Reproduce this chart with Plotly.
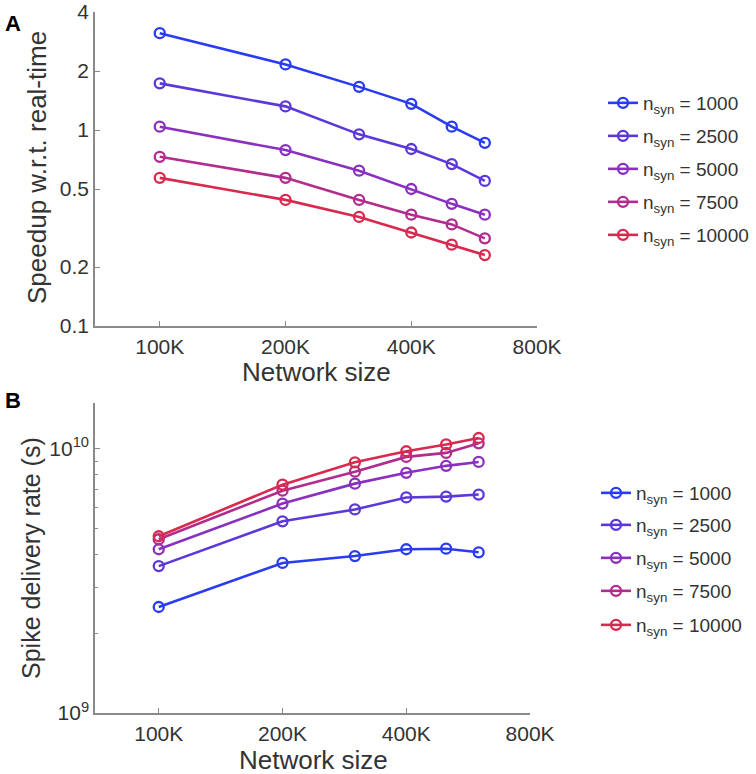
import plotly.graph_objects as go

network_size = [100000, 200000, 300000, 400000, 500000, 600000]
n_syn = [1000, 2500, 5000, 7500, 10000]
colors = ["#2a3cf2", "#5c38da", "#8a30c0", "#b22c8e", "#d82a4e"]

speedup = {
    1000: [3.12, 2.16, 1.66, 1.36, 1.04, 0.86],
    2500: [1.73, 1.32, 0.95, 0.80, 0.67, 0.55],
    5000: [1.04, 0.79, 0.62, 0.50, 0.42, 0.37],
    7500: [0.73, 0.57, 0.44, 0.37, 0.33, 0.28],
    10000: [0.57, 0.44, 0.36, 0.30, 0.26, 0.23],
}
delivery = {
    1000: [2.52e9, 3.70e9, 3.93e9, 4.17e9, 4.19e9, 4.06e9],
    2500: [3.60e9, 5.32e9, 5.90e9, 6.55e9, 6.60e9, 6.72e9],
    5000: [4.17e9, 6.21e9, 7.39e9, 8.12e9, 8.63e9, 8.93e9],
    7500: [4.55e9, 6.95e9, 8.20e9, 9.33e9, 9.66e9, 1.05e10],
    10000: [4.67e9, 7.32e9, 8.90e9, 9.80e9, 1.04e10, 1.10e10],
}

x_tickvals = [100000, 200000, 400000, 800000]
x_ticktext = ["100K", "200K", "400K", "800K"]
top_y_tickvals = [0.1, 0.2, 0.5, 1, 2, 4]
top_y_ticktext = ["0.1", "0.2", "0.5", "1", "2", "4"]
bot_y_tickvals = [1e9, 1e10]
bot_y_ticktext = ["10<sup>9</sup>", "10<sup>10</sup>"]
bot_minor = [2e9, 3e9, 4e9, 5e9, 6e9, 7e9, 8e9, 9e9]

FONT = "Liberation Sans, Arial, sans-serif"
TXT = "#333333"
AX = "#8a8a8a"
W, H = 756, 774


def px_x(p):
    return p / W


def px_y(p):
    return 1 - p / H


# legend row positions (pixels in the page)
top_rows = [103, 136, 169, 202, 235]
bot_rows = [493, 525, 558, 591, 625]

fig = go.Figure()
legend_layout = {}
for i, (n, c) in enumerate(zip(n_syn, colors)):
    lg = "legend" if i == 0 else f"legend{i + 1}"
    fig.add_trace(go.Scatter(
        x=network_size, y=speedup[n], mode="lines+markers",
        name=f"n<sub>syn</sub> = {n}", showlegend=True,
        line=dict(color=c, width=2.6),
        marker=dict(symbol="circle-open", size=10, color=c, line=dict(width=2.3, color=c)),
        xaxis="x", yaxis="y", legend=lg,
    ))
    legend_layout[lg] = dict(x=px_x(603), y=px_y(top_rows[i]), xanchor="left", yanchor="middle",
                             font=dict(family=FONT, size=19, color=TXT),
                             bgcolor="rgba(0,0,0,0)", borderwidth=0, visible=True)
for i, (n, c) in enumerate(zip(n_syn, colors)):
    lg = f"legend{i + 6}"
    fig.add_trace(go.Scatter(
        x=network_size, y=delivery[n], mode="lines+markers",
        name=f"n<sub>syn</sub> = {n}", showlegend=True,
        line=dict(color=c, width=2.6),
        marker=dict(symbol="circle-open", size=10, color=c, line=dict(width=2.3, color=c)),
        xaxis="x2", yaxis="y2", legend=lg,
    ))
    legend_layout[lg] = dict(x=px_x(596), y=px_y(bot_rows[i]), xanchor="left", yanchor="middle",
                             font=dict(family=FONT, size=19, color=TXT),
                             bgcolor="rgba(0,0,0,0)", borderwidth=0, visible=True)

axis_common = dict(
    type="log", showgrid=False, zeroline=False, showline=True, automargin=False,
    linecolor=AX, linewidth=1.5, ticks="inside", ticklen=5,
    tickcolor=AX, tickwidth=1, tickfont=dict(family=FONT, size=21, color=TXT),
    ticklabeloverflow="allow",
)

fig.update_layout(
    width=W, height=H, showlegend=True,
    margin=dict(l=0, r=0, t=0, b=0, autoexpand=False),
    paper_bgcolor="white", plot_bgcolor="white",
    font=dict(family=FONT, color=TXT),
    xaxis=dict(**axis_common, domain=[px_x(95), px_x(537)], anchor="y",
               range=[4.845, 5.903], tickvals=x_tickvals, ticktext=x_ticktext,
               ticklabelstandoff=1),
    yaxis=dict(**axis_common, domain=[px_y(326), px_y(12)], anchor="x",
               range=[-1, 0.6021], tickvals=top_y_tickvals, ticktext=top_y_ticktext,
               ticklabelstandoff=0),
    xaxis2=dict(**axis_common, domain=[px_x(95), px_x(530)], anchor="y2",
                range=[4.845, 5.903], tickvals=x_tickvals, ticktext=x_ticktext,
                ticklabelstandoff=1),
    yaxis2=dict(**axis_common, domain=[px_y(713), px_y(403)], anchor="x2",
                range=[9, 10.174], tickvals=bot_y_tickvals, ticktext=bot_y_ticktext,
                ticklabelstandoff=0,
                minor=dict(tickmode="array", tickvals=bot_minor, ticks="inside", ticklen=3, tickcolor=AX)),
    annotations=[
        dict(text="<b>A</b>", x=px_x(3), y=px_y(9), xref="paper", yref="paper",
             xanchor="left", yanchor="top", showarrow=False, font=dict(family=FONT, size=22, color="black")),
        dict(text="<b>B</b>", x=px_x(3), y=px_y(386), xref="paper", yref="paper",
             xanchor="left", yanchor="top", showarrow=False, font=dict(family=FONT, size=22, color="black")),
        dict(text="Speedup w.r.t. real-time", x=px_x(37), y=px_y(168), xref="paper", yref="paper",
             xanchor="center", yanchor="middle", textangle=-90, showarrow=False,
             font=dict(family=FONT, size=26, color=TXT)),
        dict(text="Spike delivery rate (s)", x=px_x(31), y=px_y(558), xref="paper", yref="paper",
             xanchor="center", yanchor="middle", textangle=-90, showarrow=False,
             font=dict(family=FONT, size=25, color=TXT)),
        dict(text="Network size", x=px_x(316), y=px_y(372), xref="paper", yref="paper",
             xanchor="center", yanchor="middle", showarrow=False,
             font=dict(family=FONT, size=26, color=TXT)),
        dict(text="Network size", x=px_x(313), y=px_y(760), xref="paper", yref="paper",
             xanchor="center", yanchor="middle", showarrow=False,
             font=dict(family=FONT, size=26, color=TXT)),
    ],
    **legend_layout,
)

fig.write_html("out.html", config={"displayModeBar": False},
               post_script="document.body.style.margin='0';document.body.style.overflow='hidden';")
